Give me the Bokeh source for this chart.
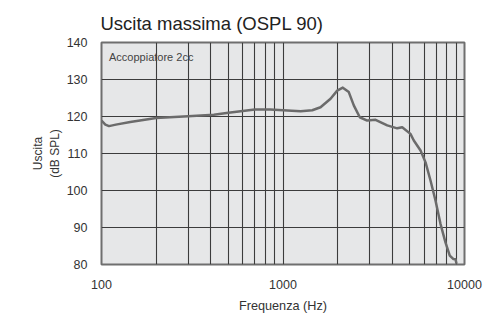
from bokeh.plotting import figure
from bokeh.models import FixedTicker, NumeralTickFormatter, Range1d, Label, Title
from bokeh.embed import file_html
from bokeh.resources import INLINE

# Data
freq = [100, 105, 110, 120, 144, 200, 300, 416, 500, 600, 700, 850, 1000, 1250, 1450,
        1610, 1828, 1989, 2136, 2304, 2455, 2649, 2909, 3236, 3752, 4259, 4537, 5037,
        5257, 5726, 6101, 6497, 6921, 7373, 7855, 8295, 8663, 8920, 9035]
spl = [118.9, 117.8, 117.4, 117.8, 118.5, 119.6, 120.1, 120.5, 121.0, 121.5, 121.9, 121.9,
       121.7, 121.4, 121.7, 122.5, 124.8, 127.0, 127.8, 126.6, 123.0, 119.8, 118.9, 119.1,
       117.6, 116.8, 117.1, 115.3, 113.5, 110.8, 107.6, 102.7, 97.3, 91.0, 86.0, 82.4,
       81.5, 81.4, 80.2]

x_grid_ticks = [100, 200, 300, 400, 500, 600, 700, 800, 900, 1000, 2000, 3000, 4000, 5000,
                6000, 7000, 8000, 9000, 10000]
x_label_ticks = [100, 1000, 10000]
y_ticks = [80, 90, 100, 110, 120, 130, 140]

FONT = "Liberation Sans"

p = figure(width=496, height=315, x_axis_type="log", output_backend="svg",
           toolbar_location=None, x_range=Range1d(100, 10000), y_range=Range1d(80, 140),
           min_border_left=101, min_border_right=32, min_border_top=42, min_border_bottom=51)

p.background_fill_color = "#e6e7e8"
p.border_fill_color = "white"
p.outline_line_color = "#6f6f6f"
p.outline_line_width = 2

title = Title(text="Uscita massima (OSPL 90)", text_font=FONT, text_font_size="18.5px",
              text_font_style="normal", text_color="#222222", align="left", offset=-1,
              standoff=17)
p.add_layout(title, "above")

# grids
p.xgrid.ticker = FixedTicker(ticks=x_grid_ticks)
p.xgrid.grid_line_color = "#3c3c3c"
p.xgrid.grid_line_width = 1.1
p.ygrid.ticker = FixedTicker(ticks=y_ticks)
p.ygrid.grid_line_color = "#3c3c3c"
p.ygrid.grid_line_width = 1.1

# axes
p.xaxis.ticker = FixedTicker(ticks=x_label_ticks, minor_ticks=[])
p.xaxis.formatter = NumeralTickFormatter(format="0")
p.yaxis.ticker = FixedTicker(ticks=y_ticks, minor_ticks=[])
for ax in (p.xaxis[0], p.yaxis[0]):
    ax.axis_line_color = None
    ax.major_tick_line_color = None
    ax.minor_tick_line_color = None
    ax.major_tick_out = 0
    ax.minor_tick_out = 0
    ax.major_label_text_font = FONT
    ax.major_label_text_font_size = "12.5px"
    ax.major_label_text_color = "#333333"
    ax.axis_label_text_font = FONT
    ax.axis_label_text_font_size = "12.7px"
    ax.axis_label_text_font_style = "normal"
    ax.axis_label_text_color = "#333333"

p.yaxis.axis_label_text_font_size = "12px"
p.xaxis.major_label_standoff = 15
p.yaxis.major_label_standoff = 14
p.xaxis.axis_label = "Frequenza (Hz)"
p.xaxis.axis_label_standoff = 7
p.yaxis.axis_label = "Uscita\n(dB SPL)"
p.yaxis.axis_label_standoff = 2

p.line(freq, spl, line_color="#6b6b6b", line_width=2.5, line_join="round")

p.add_layout(Label(x=110, y=136.2, text="Accoppiatore 2cc", text_font=FONT,
                   text_font_size="11px", text_color="#444444", text_baseline="middle"))

open("out.html", "w").write(file_html(p, INLINE))
